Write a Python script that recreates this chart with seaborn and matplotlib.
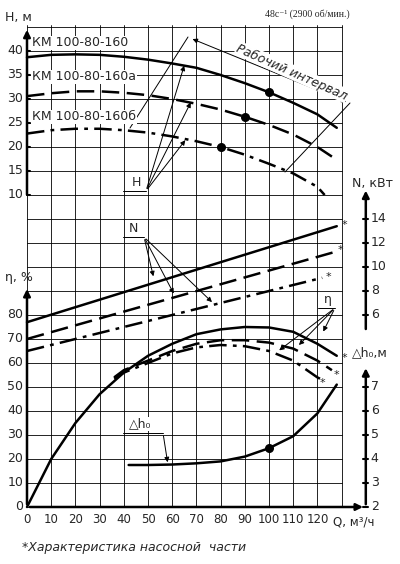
import numpy as np
import matplotlib
matplotlib.use("Agg")
import matplotlib.pyplot as plt
import seaborn as sns

sns.set_style("white")
plt.rcParams['font.family'] = ['DejaVu Sans']

# --- data ---
q_h = [0, 10, 20, 30, 40, 50, 60, 70, 80, 90, 100, 110, 120, 128]
h_160 = [38.7, 39.2, 39.3, 39.2, 38.8, 38.2, 37.4, 36.5, 35.0, 33.3, 31.4, 29.2, 26.8, 24.0]
q_ha = [0, 10, 20, 30, 40, 50, 60, 70, 80, 90, 100, 110, 120, 126]
h_160a = [30.6, 31.2, 31.6, 31.6, 31.3, 30.8, 30.0, 29.0, 27.8, 26.3, 24.6, 22.6, 20.0, 18.0]
q_hb = [0, 10, 20, 30, 40, 50, 60, 70, 80, 90, 100, 110, 120, 123]
h_160b = [22.8, 23.5, 23.8, 23.8, 23.5, 23.0, 22.2, 21.2, 20.0, 18.4, 16.5, 14.5, 11.7, 10.0]
h_points_q = [100, 90, 80]
h_points = [31.4, 26.3, 20.0]

q_n = [0, 128]
n_160 = [5.4, 13.4]
n_160a = [4.0, 11.3]
q_nb = [0, 122]
n_160b = [3.0, 9.1]

q_eta = [0, 5, 10, 20, 30, 40, 50, 60, 70, 80, 90, 100, 110, 120, 128]
eta_160 = [0, 10, 20, 35, 47, 56, 63, 68, 72, 74, 75, 74.8, 73, 68, 63]
q_eta2 = [36, 40, 50, 60, 70, 80, 90, 100, 110, 120, 126]
eta_160a = [54, 57, 61, 65, 68, 69.5, 69.5, 68.5, 66, 61, 57]
q_eta3 = [36, 40, 50, 60, 70, 80, 90, 100, 110, 120, 122]
eta_160b = [53.5, 56, 60, 64, 66.5, 67.5, 67, 65, 61, 54, 53]

q_dh = [42, 50, 60, 70, 80, 90, 100, 110, 120, 128]
dh = [3.75, 3.75, 3.77, 3.82, 3.9, 4.1, 4.45, 4.95, 5.9, 7.1]

q_ticks = list(range(0, 130, 10))
h_ticks = [10, 15, 20, 25, 30, 35, 40]
eta_ticks = [0, 10, 20, 30, 40, 50, 60, 70, 80]
n_ticks = [6, 8, 10, 12, 14]
dh_ticks = [2, 3, 4, 5, 6, 7]

# --- scale mapping: one grid row (24 px) is the common unit ---
def uh(h): return 13 + (np.asarray(h) - 10) / 5
def ue(e): return np.asarray(e) / 10
def un(n): return 8 + (np.asarray(n) - 6) / 2
def ud(d): return np.asarray(d) - 2

X0, SX, Y0, SY = 27, 2.42, 507, 24
def px(x, y):
    return ((x - X0) / SX, (Y0 - y) / SY)

fig = plt.figure(figsize=(4, 5.64), dpi=100)
ax = fig.add_axes([0, 0, 1, 1])
ax.set_xlim(px(0, 0)[0], px(400, 0)[0])
ax.set_ylim(px(0, 564)[1], px(0, 0)[1])
ax.axis('off')

# grid
for q in range(0, 140, 10):
    ax.plot([q, q], [0, 20.1], color='k', lw=0.6)
for u in range(0, 21):
    ax.plot([0, 130], [u, u], color='k', lw=0.6)

def arrow(x0, y0, x1, y1):
    ax.annotate('', xy=(x1, y1), xytext=(x0, y0),
                arrowprops=dict(arrowstyle='-|>', color='k', lw=1.8, mutation_scale=10))
arrow(0, 0, 0, 9.2)
arrow(0, 12.9, 0, 20)
arrow(0, 0, 140, 0)
arrow(140, 7.3, 140, 13.3)
arrow(140, 0, 140, 5.9)

ls_dash = (0, (7, 3))
ls_dd = (0, (7, 2.5, 1.5, 2.5))
lw = 1.8
kw = dict(ax=ax, color='k', lw=lw, sort=False, legend=False)

sns.lineplot(x=q_h, y=uh(h_160), **kw)
sns.lineplot(x=q_ha, y=uh(h_160a), linestyle=ls_dash, **kw)
sns.lineplot(x=q_hb, y=uh(h_160b), linestyle=ls_dd, **kw)
ax.scatter(h_points_q, uh(h_points), color='k', s=30, zorder=5)

sns.lineplot(x=q_n, y=un(n_160), **kw)
sns.lineplot(x=q_n, y=un(n_160a), linestyle=ls_dash, **kw)
sns.lineplot(x=q_nb, y=un(n_160b), linestyle=ls_dd, **kw)

sns.lineplot(x=q_eta, y=ue(eta_160), **kw)
sns.lineplot(x=q_eta2, y=ue(eta_160a), linestyle=ls_dash, **kw)
sns.lineplot(x=q_eta3, y=ue(eta_160b), linestyle=ls_dd, **kw)

sns.lineplot(x=q_dh, y=ud(dh), **kw)
ax.scatter([100], ud([4.45]), color='k', s=30, zorder=5)

for xq, yy in [(131, un(13.5)), (129.5, un(11.4)), (124.5, un(9.2)),
               (131, ue(62)), (128, ue(55)), (122, ue(51.5))]:
    ax.text(xq, yy, '*', fontsize=8, ha='center', va='center')

fs = 9
wb = dict(facecolor='white', edgecolor='none', pad=0.5)
for q in q_ticks:
    ax.text(q, -0.25, str(q), ha='center', va='top', fontsize=8.5)
for h in h_ticks:
    ax.text(-1.5, uh(h), str(h), ha='right', va='center', fontsize=fs)
    ax.plot([0, 1.2], [uh(h)] * 2, color='k', lw=1.5)
for e in eta_ticks:
    ax.text(-1.5, ue(e), str(e), ha='right', va='center', fontsize=fs)
for n in n_ticks:
    ax.text(142, un(n), str(n), ha='left', va='center', fontsize=fs)
    ax.plot([139, 141], [un(n)] * 2, color='k', lw=1.5)
for d in dh_ticks:
    ax.text(142, ud(d), str(d), ha='left', va='center', fontsize=fs)
    ax.plot([139, 141], [ud(d)] * 2, color='k', lw=1.5)

ax.text(*px(5, 17), 'H, м', fontsize=fs, va='center')
ax.text(*px(5, 278), 'η, %', fontsize=fs, va='center')
ax.text(*px(352, 184), 'N, кВт', fontsize=fs, va='center')
ax.text(*px(352, 353), '△h₀,м', fontsize=fs, va='center')
ax.text(*px(333, 522), 'Q, м³/ч', fontsize=8.5, va='center')
ax.text(*px(265, 14), '48c⁻¹ (2900 об/мин.)', fontsize=7, va='center',
        family=['Liberation Serif', 'DejaVu Serif'])
ax.text(*px(22, 548), '*Характеристика насосной  части', fontsize=fs,
        va='center', style='italic')

ax.text(*px(32, 43), 'КМ 100-80-160', fontsize=fs, va='center', bbox=wb)
ax.text(*px(32, 77), 'КМ 100-80-160а', fontsize=fs, va='center', bbox=wb)
ax.text(*px(32, 117), 'КМ 100-80-160б', fontsize=fs, va='center', bbox=wb)

def seg(p0, p1, lw_=0.7):
    a, b = px(*p0), px(*p1)
    ax.plot([a[0], b[0]], [a[1], b[1]], color='k', lw=lw_)
seg((188, 37), (130, 128))
seg((350, 103), (285, 172))
a, b = px(190, 38), px(349, 103)
ax.annotate('', xy=a, xytext=b, arrowprops=dict(arrowstyle='<|-|>', color='k', lw=0.7, mutation_scale=7))
ax.text(*px(292, 72), 'Рабочий интервал', rotation=-24, fontsize=fs,
        style='italic', ha='center', va='center', bbox=wb)

def leader(label, lpos, p0, p1, targets):
    ax.text(*px(*lpos), label, fontsize=fs, ha='center', va='center', bbox=wb)
    seg(p0, p1)
    for t in targets:
        ax.annotate('', xy=px(*t), xytext=px(*p1),
                    arrowprops=dict(arrowstyle='-|>', color='k', lw=0.7, mutation_scale=7))
leader('H', (136, 183), (123, 191), (146, 191), [(185, 63), (192, 100), (187, 138)])
leader('N', (133, 228), (123, 237), (144, 237), [(154, 279), (175, 296), (214, 304)])
leader('η', (328, 300), (318, 308), (335, 308), [(322, 334), (297, 347), (277, 352)])
leader('△h₀', (140, 424), (123, 433), (163, 433), [(168, 465)])

fig.savefig('out.png', dpi=100)
